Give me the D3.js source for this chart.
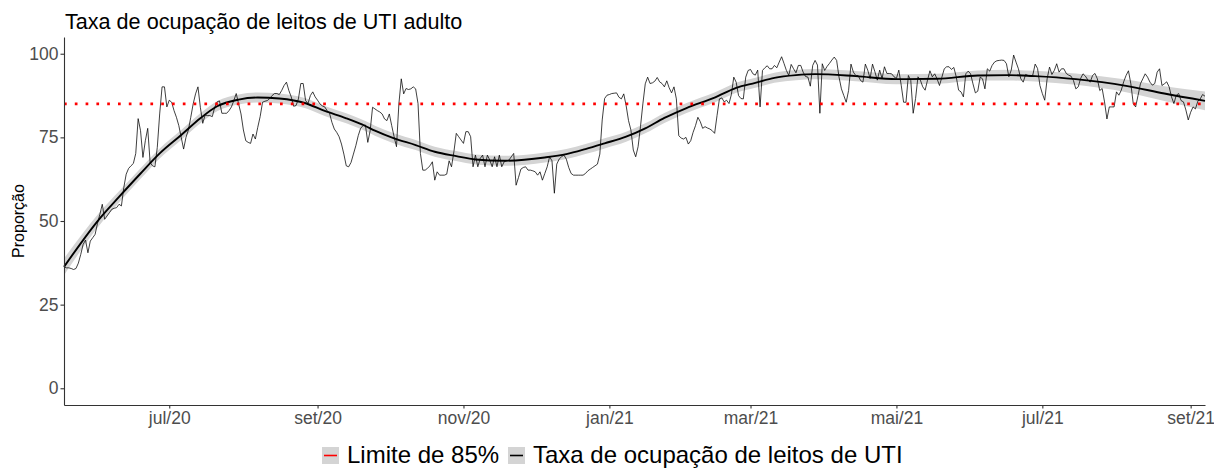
<!DOCTYPE html>
<html>
<head>
<meta charset="utf-8">
<script src="https://cdn.jsdelivr.net/npm/d3@7"></script>
<style>
  body { margin: 0; background: #fff; }
  text { font-family: "Liberation Sans", Arial, sans-serif; }
</style>
</head>
<body>
<div id="chart"></div>
<script>
// daily ICU occupancy (%) starting at `inicio`
const inicio = "2020-05-18";
const ocupacao = [
  36.3, 36, 36, 35.8, 35.5, 35.8, 37.4, 40, 43, 44.3,
  40.5, 44, 45, 46, 49.3, 52, 55, 50.5, 51.5, 52.5,
  53.5, 53.8, 54, 55, 54.5, 60, 64, 65.7, 66.5, 67.2,
  70.2, 80.6, 77, 69, 74, 77.7, 67.5, 66.5, 66.2, 72,
  82, 90.1, 90.1, 84.1, 86.1, 85.5, 83, 81, 78.5, 75,
  71.5, 75, 77.2, 81, 85, 88, 90.1, 84, 79.2, 81.7,
  81.5, 81.5, 81.2, 84, 85.6, 85.9, 82.2, 82.2, 82.2, 83,
  84.1, 86, 88.1, 85, 82, 77.2, 74, 73.5, 73.2, 76,
  74.5, 78, 81.2, 85.5, 85.8, 86, 86.6, 87.5, 88.1, 88.1,
  87.8, 89, 90.5, 91.5, 89, 87.1, 84.3, 84.5, 86.5, 91.1,
  91.1, 86, 85.1, 87.5, 88.6, 87.1, 86.1, 85, 84.4, 84.1,
  83, 82.2, 79.5, 77.5, 76.5, 75.2, 73, 70, 66.5, 66.2,
  67.5, 70, 72.5, 75.5, 77.7, 78.5, 78.7, 73.5, 77, 84,
  83.5, 83, 82.6, 82, 80.5, 80, 82, 78.5, 75.2, 72.2,
  85, 92.5, 88, 89.6, 89.3, 89.5, 90.1, 89.5, 85.1, 70.2,
  65.2, 65.2, 65.8, 66.5, 67.7, 62.2, 64.7, 63.7, 63.7, 63.7,
  64, 68, 66.2, 70.7, 76.2, 75.2, 74.2, 73.2, 76.7, 76.7,
  75.2, 66.2, 69.7, 66.2, 68.7, 69.7, 66.2, 69.7, 68.2, 66.2,
  69.2, 66.2, 69.7, 66.2, 67.7, 68, 68.2, 69.2, 70.2, 60.7,
  63, 65.5, 66, 66.2, 65.2, 65.2, 65, 64.7, 63.7, 64.7,
  62.2, 64.2, 66.2, 69.2, 68, 58.3, 67, 68.5, 69.2, 69.7,
  68.5, 66, 64.2, 63.7, 63.7, 63.7, 63.7, 63.7, 64.2, 65,
  65.5, 66, 66.5, 67, 70, 80.2, 86.6, 87.6, 87.8, 88.1,
  88.2, 88.3, 87, 86.5, 88, 84.5, 80, 77.2, 71.2, 69.2,
  72.2, 78.2, 85, 91, 93, 91.1, 91.3, 91.8, 92.9, 91.6,
  91.1, 90.1, 91.9, 89.8, 88.3, 90.1, 86.5, 75.5, 74.8, 74.5,
  75, 73, 74, 76.5, 78.5, 81, 79.7, 77.7, 78.2, 77.8,
  77.5, 77, 76.2, 81.5, 86.5, 86.8, 85.6, 86.1, 85.1, 87.8,
  93, 91.5, 87.5, 86.6, 86.5, 93, 95, 95.3, 94, 93.6,
  95.1, 84.1, 95, 95.8, 96.4, 95.5, 95.5, 96.5, 95.8, 97.5,
  99.1, 97.1, 95, 93.5, 96.8, 95.5, 94.3, 96.5, 96.5, 94.5,
  93.2, 93, 90.3, 96.5, 98, 96.6, 82.2, 97, 95, 96.2,
  97.1, 98.1, 99, 98, 93, 89.5, 87.5, 85.5, 89, 96.9,
  94.5, 93.5, 93.5, 92, 91.5, 96.9, 95.1, 92.6, 96.9, 94.6,
  92.1, 95.1, 92.6, 96.1, 94.1, 94.1, 94, 93.1, 92.6, 95.1,
  90.6, 85.5, 85.5, 93.5, 92, 82.2, 86.6, 93.1, 92.1, 90.1,
  89.1, 92.1, 94.9, 93.1, 94, 92.5, 90.5, 93, 95.5, 96.1,
  96.1, 95.3, 95.9, 93.1, 89.1, 88.6, 87.1, 94, 94.8, 94,
  91, 88.3, 88.8, 93, 92.5, 89.5, 95.5, 94.8, 96.5, 97.5,
  97.9, 98, 98.1, 98, 97, 93.1, 95.1, 99.6, 97.5, 95.5,
  92.5, 91.5, 93.8, 93.5, 93.2, 93.6, 96.9, 95.6, 90.5, 88.1,
  86.1, 92.5, 96, 93.8, 95, 97, 94.5, 95.5, 95.5, 94.1,
  93.6, 93.3, 92, 89.5, 90.1, 92.6, 94, 93.3, 92.2, 91.5,
  93.5, 94.1, 92.5, 89, 89.6, 85.6, 80.5, 84.1, 84.1, 84.1,
  88.6, 87.6, 89.1, 91.6, 93.5, 94.9, 91, 85.1, 84.1, 87.5,
  91, 92.5, 94, 93, 91.5, 90.6, 91.1, 94.5, 95.5, 90.5,
  91, 91.6, 90.1, 87.1, 85.1, 87.6, 88.1, 86, 85.6, 83.2,
  80.2, 82.5, 84.1, 83.5, 85.8, 86.5, 87.8, 87.3
];

// smoothed curve (loess): day offset, value, half width of band
const suavDias = [0, 15, 23, 32, 40, 49, 57, 64, 73, 81, 90, 101, 109, 118, 126, 130, 138, 147, 155, 164,
  172, 184, 201, 210, 218, 226, 235, 243, 251, 260, 272, 281, 289, 297, 306, 314, 331, 348, 365, 382,
  395, 406, 423, 444, 460, 477];
const suavValores = [36.3, 50.8, 57.2, 64.2, 70.2, 75.7, 80.7, 84.3, 86.3, 86.9, 86.6, 85.2, 82.9, 80.7, 78.4, 77.0, 74.7, 72.7, 70.7, 69.4,
  68.4, 68.0, 69.0, 70.0, 71.5, 73.2, 75.2, 77.7, 80.8, 83.7, 86.9, 89.8, 91.3, 92.8, 93.6, 93.9, 93.3, 92.4, 92.5, 93.5,
  93.6, 93.3, 92.4, 90.4, 88.1, 85.9];
const suavErro = [2.5, 1.9, 1.7, 1.6, 1.5, 1.5, 1.5, 1.5, 1.5, 1.5, 1.5, 1.5, 1.5, 1.5, 1.5, 1.5, 1.5, 1.5, 1.5, 1.5,
  1.5, 1.5, 1.5, 1.5, 1.5, 1.5, 1.5, 1.5, 1.5, 1.5, 1.5, 1.5, 1.5, 1.5, 1.5, 1.5, 1.5, 1.5, 1.5, 1.5,
  1.6, 1.6, 1.7, 1.9, 2.2, 2.8];

const limite = 85;
const yTicks = [0, 25, 50, 75, 100];
const xTicks = ["2020-07-01", "2020-09-01", "2020-11-01", "2021-01-01", "2021-03-01", "2021-05-01", "2021-07-01", "2021-09-01"];
const xTickLabels = ["jul/20", "set/20", "nov/20", "jan/21", "mar/21", "mai/21", "jul/21", "set/21"];
const legendaLabels = ["Limite de 85%", "Taxa de ocupação de leitos de UTI"];

const W = 1214, H = 468;
const margin = {top: 37, right: 9, bottom: 63, left: 64};

const parse = d3.timeParse("%Y-%m-%d");
const t0 = parse(inicio);
const serie = ocupacao.map((v, i) => ({date: d3.timeDay.offset(t0, i), v}));
const suav = suavDias.map((d, i) => ({date: d3.timeDay.offset(t0, d), v: suavValores[i], e: suavErro[i]}));

const svg = d3.select("#chart").append("svg")
  .attr("width", W).attr("height", H);

const x = d3.scaleTime()
  .domain(d3.extent(serie, d => d.date))
  .range([margin.left, W - margin.right]);
const y = d3.scaleLinear()
  .domain([-5, 105])
  .range([H - margin.bottom, margin.top]);

// title
svg.append("text")
  .attr("x", margin.left + 1).attr("y", 29)
  .style("font-size", "21.6px").attr("fill", "#000")
  .text("Taxa de ocupação de leitos de UTI adulto");

// confidence band
svg.append("path")
  .datum(suav)
  .attr("fill", "#d4d4d4")
  .attr("d", d3.area()
    .x(d => x(d.date))
    .y0(d => y(d.v - d.e))
    .y1(d => y(d.v + d.e))
    .curve(d3.curveMonotoneX));

// daily line
svg.append("path")
  .datum(serie)
  .attr("fill", "none")
  .attr("stroke", "#000")
  .attr("stroke-width", 0.75)
  .attr("d", d3.line().x(d => x(d.date)).y(d => y(d.v)));

// smooth line
svg.append("path")
  .datum(suav)
  .attr("fill", "none")
  .attr("stroke", "#000")
  .attr("stroke-width", 1.9)
  .attr("d", d3.line().x(d => x(d.date)).y(d => y(d.v)).curve(d3.curveMonotoneX));

// 85% limit
svg.append("line")
  .attr("x1", margin.left).attr("x2", W - margin.right)
  .attr("y1", y(limite)).attr("y2", y(limite))
  .attr("stroke", "#ff0000")
  .attr("stroke-width", 2.7)
  .attr("stroke-dasharray", "2.7,8.1");

// axes
const yAxis = svg.append("g")
  .attr("transform", `translate(${margin.left},0)`)
  .call(d3.axisLeft(y).tickValues(yTicks).tickSize(3.5).tickSizeOuter(0).tickPadding(2));
const xAxis = svg.append("g")
  .attr("transform", `translate(0,${H - margin.bottom})`)
  .call(d3.axisBottom(x).tickValues(xTicks.map(parse)).tickFormat((d, i) => xTickLabels[i])
    .tickSize(3.5).tickSizeOuter(0).tickPadding(3));

[yAxis, xAxis].forEach(g => {
  g.select(".domain").attr("stroke", "#333").attr("stroke-width", 1.1);
  g.selectAll(".tick line").attr("stroke", "#333").attr("stroke-width", 1.1);
  g.selectAll(".tick text").attr("fill", "#4d4d4d")
    .style("font-size", "17.5px").style("font-family", "'Liberation Sans', Arial, sans-serif");
});

// y label
svg.append("text")
  .attr("transform", `translate(24,${(margin.top + H - margin.bottom) / 2}) rotate(-90)`)
  .attr("text-anchor", "middle")
  .style("font-size", "16px").attr("fill", "#000")
  .text("Proporção");

// legend
const leg = svg.append("g");
const keyCor = ["#ff0000", "#000"];
const keyX = [322, 508];
legendaLabels.forEach((lab, i) => {
  leg.append("rect")
    .attr("x", keyX[i]).attr("y", 447).attr("width", 17).attr("height", 17)
    .attr("fill", "#d4d4d4");
  leg.append("line")
    .attr("x1", keyX[i] + 2).attr("x2", keyX[i] + 15)
    .attr("y1", 455.5).attr("y2", 455.5)
    .attr("stroke", keyCor[i]).attr("stroke-width", 1.6);
  leg.append("text")
    .attr("x", keyX[i] + 25).attr("y", 463)
    .style("font-size", "24px").attr("fill", "#000")
    .text(lab);
});
</script>
</body>
</html>
